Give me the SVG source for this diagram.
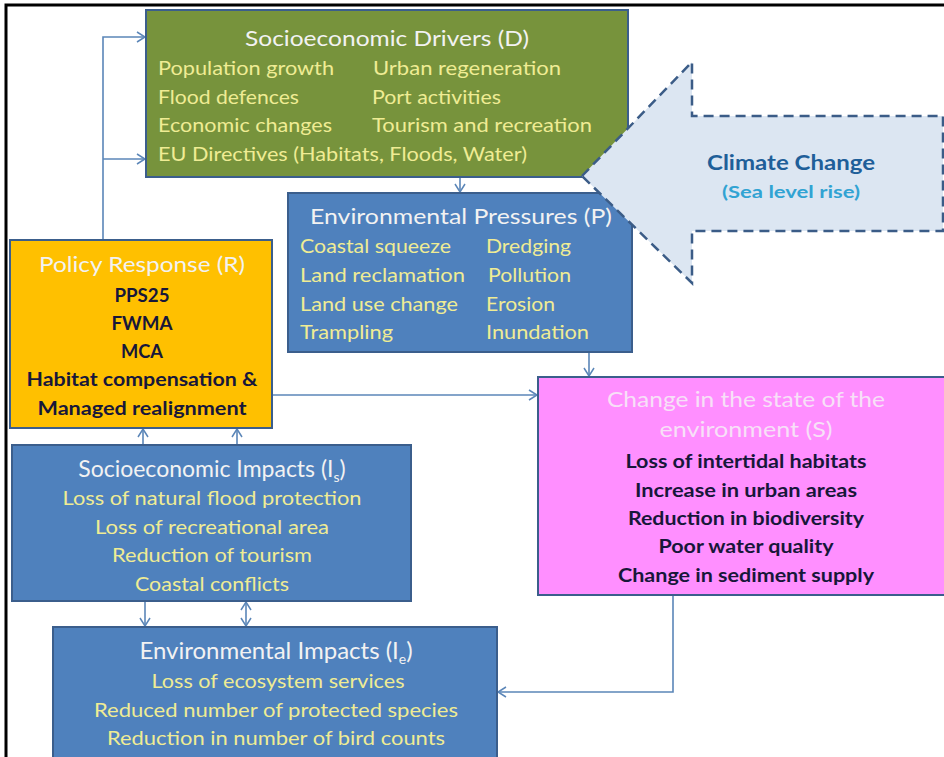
<svg xmlns="http://www.w3.org/2000/svg" width="944" height="757" viewBox="0 0 944 757">
<defs>
<marker id="ah" viewBox="0 0 10 12" refX="9" refY="6" markerWidth="10" markerHeight="12" markerUnits="userSpaceOnUse" orient="auto-start-reverse">
<path d="M1,1 L9,6 L1,11" fill="none" stroke="#5B86B8" stroke-width="1.5"/>
</marker>
<style>
.box{stroke:#3B5E8C;stroke-width:2}
.t{font-family:Lato,"Liberation Sans",sans-serif}
.ttl{font-size:21px;fill:#F2F2F2}
.it{font-size:19px;fill:#EFEC94}
.bd{font-size:19px;font-weight:bold;fill:#17173A}
.c{stroke:#5B86B8;stroke-width:1.6;fill:none}
</style>
</defs>
<rect x="0" y="0" width="944" height="757" fill="#FFFFFF"/>
<path d="M6,757 L6,5 L944,5" fill="none" stroke="#000000" stroke-width="3"/>

<g id="connectors">
<path class="c" d="M103,240 L103,37 L145,37" marker-end="url(#ah)"/>
<path class="c" d="M103,159 L145,159" marker-end="url(#ah)"/>
<path class="c" d="M460,177 L460,192" marker-end="url(#ah)"/>
<path class="c" d="M589,352 L589,376" marker-end="url(#ah)"/>
<path class="c" d="M272,395 L537,395" marker-end="url(#ah)"/>
<path class="c" d="M143,445 L143,429" marker-end="url(#ah)"/>
<path class="c" d="M237,445 L237,429" marker-end="url(#ah)"/>
<path class="c" d="M145,601 L145,626" marker-end="url(#ah)"/>
<path class="c" d="M246,602 L246,626" marker-start="url(#ah)" marker-end="url(#ah)"/>
<path class="c" d="M673,595 L673,692 L498,692" marker-end="url(#ah)"/>
</g>

<g id="drivers">
<rect class="box" x="146" y="10" width="482" height="167" fill="#77933C"/>
<text class="t ttl" x="387" y="46" text-anchor="middle" textLength="284" lengthAdjust="spacingAndGlyphs">Socioeconomic Drivers (D)</text>
<text class="t it" x="158" y="75" textLength="176" lengthAdjust="spacingAndGlyphs">Population growth</text>
<text class="t it" x="373" y="75" textLength="188" lengthAdjust="spacingAndGlyphs">Urban regeneration</text>
<text class="t it" x="158" y="104" textLength="141" lengthAdjust="spacingAndGlyphs">Flood defences</text>
<text class="t it" x="372" y="104" textLength="129" lengthAdjust="spacingAndGlyphs">Port activities</text>
<text class="t it" x="158" y="132" textLength="174" lengthAdjust="spacingAndGlyphs">Economic changes</text>
<text class="t it" x="372" y="132" textLength="220" lengthAdjust="spacingAndGlyphs">Tourism and recreation</text>
<text class="t it" x="158" y="161" textLength="369" lengthAdjust="spacingAndGlyphs">EU Directives (Habitats, Floods, Water)</text>
</g>

<g id="pressures">
<rect class="box" x="288" y="193" width="344" height="159" fill="#4F81BD"/>
<text class="t ttl" x="461" y="224" text-anchor="middle" textLength="302" lengthAdjust="spacingAndGlyphs">Environmental Pressures (P)</text>
<text class="t it" x="300" y="253" textLength="151" lengthAdjust="spacingAndGlyphs">Coastal squeeze</text>
<text class="t it" x="300" y="282" textLength="165" lengthAdjust="spacingAndGlyphs">Land reclamation</text>
<text class="t it" x="300" y="311" textLength="158" lengthAdjust="spacingAndGlyphs">Land use change</text>
<text class="t it" x="300" y="339" textLength="93" lengthAdjust="spacingAndGlyphs">Trampling</text>
<text class="t it" x="486" y="253" textLength="85" lengthAdjust="spacingAndGlyphs">Dredging</text>
<text class="t it" x="488" y="282" textLength="83" lengthAdjust="spacingAndGlyphs">Pollution</text>
<text class="t it" x="486" y="311" textLength="69" lengthAdjust="spacingAndGlyphs">Erosion</text>
<text class="t it" x="486" y="339" textLength="103" lengthAdjust="spacingAndGlyphs">Inundation</text>
</g>

<g id="climate">
<path d="M582,176 L692,62 L692,116 L943,116 L943,231 L692,231 L692,283 Z" fill="#DCE6F2" stroke="#3B5C87" stroke-width="2.5" stroke-dasharray="10,6"/>
<text class="t" x="791" y="170" text-anchor="middle" font-size="21" font-weight="bold" fill="#1F5F99" textLength="168" lengthAdjust="spacingAndGlyphs">Climate Change</text>
<text class="t" x="791" y="198" text-anchor="middle" font-size="17" font-weight="bold" fill="#31A3D3" textLength="138" lengthAdjust="spacingAndGlyphs">(Sea level rise)</text>
</g>

<g id="response">
<rect class="box" x="10" y="240" width="262" height="188" fill="#FFC000"/>
<text class="t ttl" x="142" y="272" text-anchor="middle" textLength="206" lengthAdjust="spacingAndGlyphs">Policy Response (R)</text>
<text class="t bd" x="142" y="302" text-anchor="middle" textLength="55" lengthAdjust="spacingAndGlyphs">PPS25</text>
<text class="t bd" x="142" y="330" text-anchor="middle" textLength="61" lengthAdjust="spacingAndGlyphs">FWMA</text>
<text class="t bd" x="142" y="358" text-anchor="middle" textLength="42" lengthAdjust="spacingAndGlyphs">MCA</text>
<text class="t bd" x="142" y="386" text-anchor="middle" textLength="231" lengthAdjust="spacingAndGlyphs">Habitat compensation &amp;</text>
<text class="t bd" x="142" y="415" text-anchor="middle" textLength="209" lengthAdjust="spacingAndGlyphs">Managed realignment</text>
</g>

<g id="state">
<rect class="box" x="538" y="377" width="407" height="218" fill="#FF8FFF"/>
<text class="t ttl" x="746" y="407" text-anchor="middle" style="fill:#F7E0F7" textLength="278" lengthAdjust="spacingAndGlyphs">Change in the state of the</text>
<text class="t ttl" x="746" y="437" text-anchor="middle" style="fill:#F7E0F7" textLength="173" lengthAdjust="spacingAndGlyphs">environment (S)</text>
<text class="t bd" x="746" y="468" text-anchor="middle" textLength="241" lengthAdjust="spacingAndGlyphs">Loss of intertidal habitats</text>
<text class="t bd" x="746" y="497" text-anchor="middle" textLength="222" lengthAdjust="spacingAndGlyphs">Increase in urban areas</text>
<text class="t bd" x="746" y="525" text-anchor="middle" textLength="236" lengthAdjust="spacingAndGlyphs">Reduction in biodiversity</text>
<text class="t bd" x="746" y="553" text-anchor="middle" textLength="175" lengthAdjust="spacingAndGlyphs">Poor water quality</text>
<text class="t bd" x="746" y="582" text-anchor="middle" textLength="256" lengthAdjust="spacingAndGlyphs">Change in sediment supply</text>
</g>

<g id="socio-impacts">
<rect class="box" x="12" y="445" width="399" height="156" fill="#4F81BD"/>
<text class="t ttl" x="212" y="477" text-anchor="middle" font-size="23" style="font-size:23px">Socioeconomic Impacts (I<tspan dy="5" style="font-size:14px">s</tspan><tspan dy="-5">)</tspan></text>
<text class="t it" x="212" y="505" text-anchor="middle" textLength="299" lengthAdjust="spacingAndGlyphs">Loss of natural flood protection</text>
<text class="t it" x="212" y="534" text-anchor="middle" textLength="234" lengthAdjust="spacingAndGlyphs">Loss of recreational area</text>
<text class="t it" x="212" y="562" text-anchor="middle" textLength="200" lengthAdjust="spacingAndGlyphs">Reduction of tourism</text>
<text class="t it" x="212" y="591" text-anchor="middle" textLength="154" lengthAdjust="spacingAndGlyphs">Coastal conflicts</text>
</g>

<g id="env-impacts">
<rect class="box" x="53" y="627" width="444" height="135" fill="#4F81BD"/>
<text class="t ttl" x="276" y="659" text-anchor="middle" style="font-size:24px">Environmental Impacts (I<tspan dy="5" style="font-size:14px">e</tspan><tspan dy="-5">)</tspan></text>
<text class="t it" x="278" y="688" text-anchor="middle" textLength="253" lengthAdjust="spacingAndGlyphs">Loss of ecosystem services</text>
<text class="t it" x="276" y="717" text-anchor="middle" textLength="364" lengthAdjust="spacingAndGlyphs">Reduced number of protected species</text>
<text class="t it" x="276" y="745" text-anchor="middle" textLength="338" lengthAdjust="spacingAndGlyphs">Reduction in number of bird counts</text>
</g>
</svg>
